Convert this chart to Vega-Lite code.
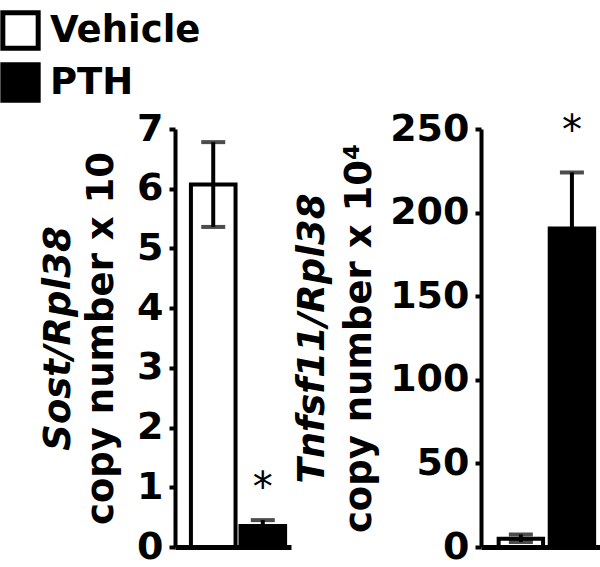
{
  "$schema": "https://vega.github.io/schema/vega-lite/v6.json",
  "background": "white",
  "padding": {"left": 0, "top": 10, "right": 0, "bottom": 0},
  "spacing": 2,
  "datasets": {
    "sost": [
      {"group": "Vehicle", "mean": 6.07, "lower": 5.36, "upper": 6.78, "sig": ""},
      {"group": "PTH", "mean": 0.35, "lower": 0.27, "upper": 0.45, "sig": "*"}
    ],
    "tnf": [
      {"group": "Vehicle", "mean": 5, "lower": 3, "upper": 7.5, "sig": ""},
      {"group": "PTH", "mean": 190.5, "lower": 157, "upper": 224, "sig": "*"}
    ]
  },
  "hconcat": [
    {
      "width": 116,
      "height": 418,
      "data": {"name": "sost"},
      "encoding": {
        "x": {
          "field": "group", "type": "nominal", "sort": ["Vehicle", "PTH"],
          "scale": {"paddingInner": 0.1, "paddingOuter": 0.22, "align": 0.73},
          "axis": {"title": null, "labels": false, "ticks": false, "domain": true, "domainWidth": 5, "domainColor": "black"}
        }
      },
      "layer": [
        {
          "mark": {"type": "bar", "stroke": "black", "strokeWidth": 4},
          "encoding": {
            "y": {
              "field": "mean", "type": "quantitative",
              "scale": {"domain": [0, 7], "nice": false},
              "axis": {
                "orient": "left", "title": "copy number x 10", "titlePadding": 16,
                "values": [0, 1, 2, 3, 4, 5, 6, 7]
              }
            },
            "fill": {
              "field": "group", "type": "nominal",
              "scale": {"domain": ["Vehicle", "PTH"], "range": ["white", "black"]},
              "legend": {
                "orient": "none", "legendX": -175, "legendY": -119, "title": null,
                "symbolType": "square", "symbolSize": 1250, "symbolStrokeColor": "black",
                "symbolStrokeWidth": 5, "symbolOpacity": 1,
                "labelFont": "DejaVu Sans", "labelFontSize": 37, "labelFontWeight": "bold",
                "labelColor": "black", "labelOffset": 9, "rowPadding": -5
              }
            }
          }
        },
        {
          "mark": {"type": "rule", "color": "black", "strokeWidth": 4},
          "encoding": {
            "y": {
              "field": "lower", "type": "quantitative",
              "axis": {
                "orient": "left", "title": "Sost/Rpl38", "titleFontStyle": "italic",
                "titlePadding": 98, "domain": false, "ticks": false, "labels": false
              }
            },
            "y2": {"field": "upper"}
          }
        },
        {
          "mark": {"type": "tick", "color": "black", "thickness": 4, "size": 24},
          "encoding": {"y": {"field": "upper", "type": "quantitative", "axis": null}}
        },
        {
          "mark": {"type": "tick", "color": "black", "thickness": 4, "size": 24},
          "encoding": {"y": {"field": "lower", "type": "quantitative", "axis": null}}
        },
        {
          "mark": {"type": "text", "font": "DejaVu Sans", "fontSize": 40, "baseline": "middle", "dy": -31, "color": "black"},
          "encoding": {
            "y": {"field": "upper", "type": "quantitative", "axis": null},
            "text": {"field": "sig"}
          }
        }
      ],
      "resolve": {"axis": {"y": "independent"}}
    },
    {
      "width": 120,
      "height": 418,
      "data": {"name": "tnf"},
      "encoding": {
        "x": {
          "field": "group", "type": "nominal", "sort": ["Vehicle", "PTH"],
          "scale": {"paddingInner": 0.13, "paddingOuter": 0.24, "align": 0.72},
          "axis": {"title": null, "labels": false, "ticks": false, "domain": true, "domainWidth": 5, "domainColor": "black"}
        }
      },
      "layer": [
        {
          "mark": {"type": "bar", "stroke": "black", "strokeWidth": 4},
          "encoding": {
            "y": {
              "field": "mean", "type": "quantitative",
              "scale": {"domain": [0, 250], "nice": false},
              "axis": {
                "orient": "left", "title": "copy number x 10⁴", "titlePadding": 11,
                "values": [0, 50, 100, 150, 200, 250]
              }
            },
            "fill": {
              "field": "group", "type": "nominal",
              "scale": {"domain": ["Vehicle", "PTH"], "range": ["white", "black"]},
              "legend": null
            }
          }
        },
        {
          "mark": {"type": "rule", "color": "black", "strokeWidth": 4},
          "encoding": {
            "y": {
              "field": "lower", "type": "quantitative",
              "axis": {
                "orient": "left", "title": "Tnfsf11/Rpl38", "titleFontStyle": "italic",
                "titlePadding": 150, "domain": false, "ticks": false, "labels": false
              }
            },
            "y2": {"field": "upper"}
          }
        },
        {
          "mark": {"type": "tick", "color": "black", "thickness": 4, "size": 24},
          "encoding": {"y": {"field": "upper", "type": "quantitative", "axis": null}}
        },
        {
          "mark": {"type": "tick", "color": "black", "thickness": 4, "size": 24},
          "encoding": {"y": {"field": "lower", "type": "quantitative", "axis": null}}
        },
        {
          "mark": {"type": "text", "font": "DejaVu Sans", "fontSize": 40, "baseline": "middle", "dy": -40, "color": "black"},
          "encoding": {
            "y": {"field": "upper", "type": "quantitative", "axis": null},
            "text": {"field": "sig"}
          }
        }
      ],
      "resolve": {"axis": {"y": "independent"}}
    }
  ],
  "resolve": {"scale": {"fill": "shared"}, "legend": {"fill": "shared"}},
  "config": {
    "view": {"stroke": null},
    "axis": {
      "grid": false,
      "domainColor": "black", "domainWidth": 4,
      "tickColor": "black", "tickWidth": 4, "tickSize": 6,
      "labelFont": "DejaVu Sans", "labelFontSize": 38, "labelFontWeight": "bold",
      "labelColor": "black", "labelPadding": 6, "labelOverlap": false, "labelBound": false,
      "titleFont": "DejaVu Sans", "titleFontSize": 37, "titleFontWeight": "bold",
      "titleColor": "black"
    }
  }
}
